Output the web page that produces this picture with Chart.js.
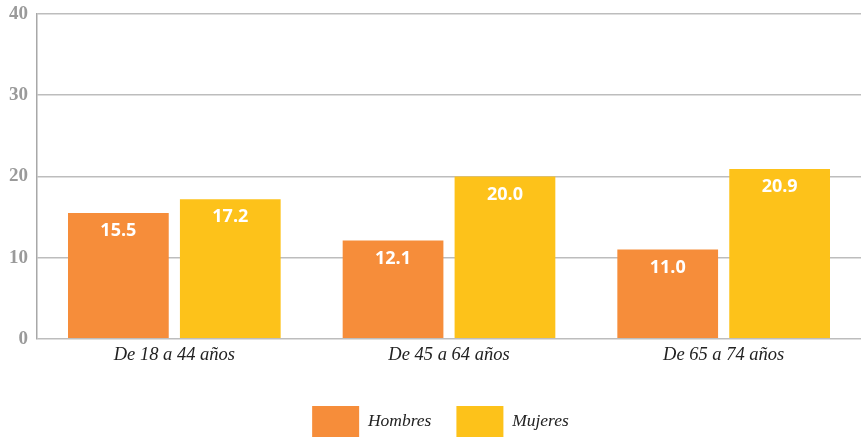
<!DOCTYPE html>
<html><head><meta charset="utf-8">
<script src="https://cdn.jsdelivr.net/npm/chart.js@4/dist/chart.umd.min.js"></script>
<style>html,body{margin:0;padding:0;background:#fff}#wrap{width:861px;height:438px}</style>
</head><body><div id="wrap"><canvas id="c"></canvas></div>
<script>
const categories = ["De 18 a 44 años", "De 45 a 64 años", "De 65 a 74 años"];
const hombres = [15.5, 12.1, 11.0];
const mujeres = [17.2, 20.0, 20.9];
const seriesNames = ["Hombres", "Mujeres"];
const yTicks = [0, 10, 20, 30, 40];

const valueLabels = {
  id: 'valueLabels',
  afterDatasetsDraw(chart) {
    const ctx = chart.ctx;
    ctx.save();
    ctx.fillStyle = '#ffffff';
    ctx.font = 'bold 18px "Open Sans", Lato, sans-serif';
    ctx.textAlign = 'center';
    ctx.textBaseline = 'middle';
    chart.data.datasets.forEach((ds, i) => {
      chart.getDatasetMeta(i).data.forEach((bar, j) => {
        ctx.fillText(ds.data[j].toFixed(1), bar.x, bar.y + 18);
      });
    });
    ctx.restore();
  }
};

const legendShift = {
  id: 'legendShift',
  afterLayout(chart) {
    if (chart.legend) { chart.legend.left += 10; chart.legend.right += 10; }
  }
};

new Chart(document.getElementById('c'), {
  type: 'bar',
  data: {
    labels: categories,
    datasets: [
      { label: seriesNames[0], data: hombres, backgroundColor: '#F68D3A', categoryPercentage: 0.815, barPercentage: 0.9 },
      { label: seriesNames[1], data: mujeres, backgroundColor: '#FDC21A', categoryPercentage: 0.815, barPercentage: 0.9 }
    ]
  },
  options: {
    responsive: true,
    maintainAspectRatio: false,
    animation: false,
    layout: { padding: { top: 0, right: 0, left: 0, bottom: -9 } },
    plugins: {
      legend: {
        position: 'bottom',
        labels: {
          boxWidth: 47, boxHeight: 31, padding: 25,
          color: '#222',
          font: { family: '"Liberation Serif", serif', style: 'italic', size: 17.5 }
        }
      },
      tooltip: { enabled: false }
    },
    scales: {
      x: {
        grid: { display: false, drawTicks: false },
        border: { display: false },
        ticks: { color: '#222', padding: 5, font: { family: '"Liberation Serif", serif', style: 'italic', size: 18.5 } },
        afterFit(scale) { scale.height += 10; }
      },
      y: {
        min: 0, max: 40,
        afterBuildTicks(scale) { scale.ticks = yTicks.map(v => ({ value: v })); },
        grid: { color: '#BDBDBD', lineWidth: 1.5, drawTicks: false },
        border: { display: true, color: '#A8A8A8', width: 1.5 },
        ticks: { color: '#9A9A9A', padding: 9, font: { family: '"Liberation Serif", serif', weight: 'bold', size: 19, lineHeight: 0.53 } }
      }
    }
  },
  plugins: [valueLabels, legendShift]
});
</script></body></html>
